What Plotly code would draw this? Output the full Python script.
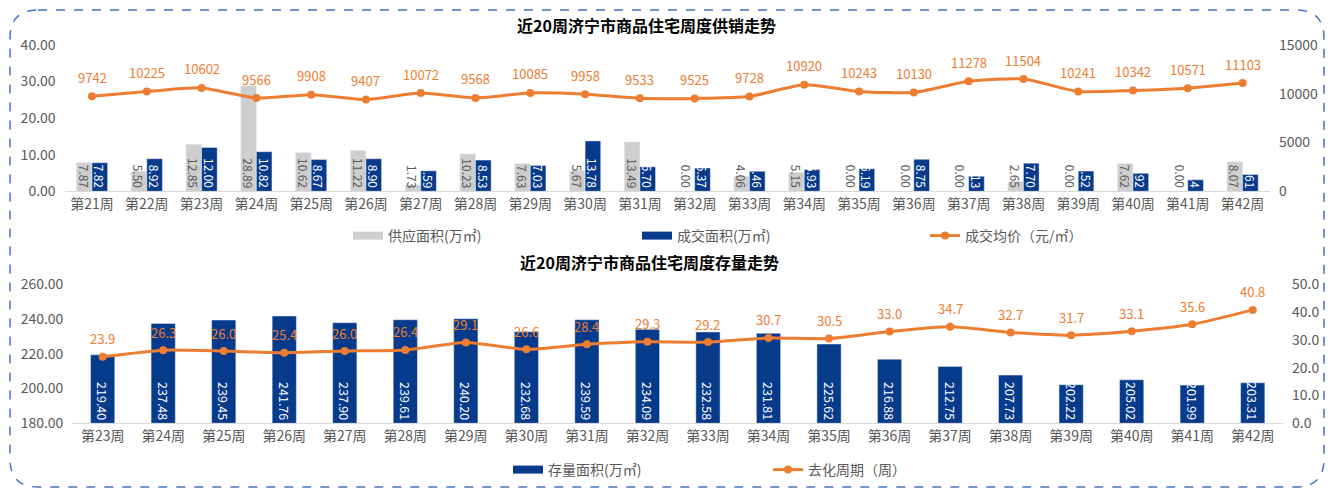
import plotly.graph_objects as go

# ---------------- data ----------------
weeks_top = [f"第{i}周" for i in range(21, 43)]
supply_area = [7.87, 5.50, 12.85, 28.89, 10.62, 11.22, 1.73, 10.23, 7.63, 5.67, 13.49,
               0.00, 4.06, 5.15, 0.00, 0.00, 0.00, 2.65, 0.00, 7.62, 0.00, 8.07]
sales_area = [7.82, 8.92, 12.00, 10.82, 8.67, 8.90, 5.59, 8.53, 7.03, 13.78, 6.70,
              6.37, 5.46, 5.93, 6.19, 8.75, 4.13, 7.70, 5.52, 4.92, 3.14, 4.61]
avg_price = [9742, 10225, 10602, 9566, 9908, 9407, 10072, 9568, 10085, 9958, 9533,
             9525, 9728, 10920, 10243, 10130, 11278, 11504, 10241, 10342, 10571, 11103]

weeks_bot = [f"第{i}周" for i in range(23, 43)]
stock_area = [219.40, 237.48, 239.45, 241.76, 237.90, 239.61, 240.20, 232.68, 239.59, 234.09,
              232.58, 231.81, 225.62, 216.88, 212.75, 207.73, 202.22, 205.02, 201.99, 203.31]
cycle_weeks = [23.9, 26.3, 26.0, 25.4, 26.0, 26.4, 29.1, 26.6, 28.4, 29.3,
               29.2, 30.7, 30.5, 33.0, 34.7, 32.7, 31.7, 33.1, 35.6, 40.8]

title_top = "近20周济宁市商品住宅周度供销走势"
title_bot = "近20周济宁市商品住宅周度存量走势"

# ---------------- styles ----------------
W, H = 1332, 490
GRAY = "#CFCECE"
BLUE = "#063A8A"
ORANGE = "#ED7D31"
TXT = "#595959"
FONT = "Noto Sans CJK SC, Microsoft YaHei, sans-serif"
BOT_MIN = 180  # bottom left-axis floor; stock bars are drawn up from it

def px_x(p):
    return p / W

def px_y(p):
    return 1 - p / H

fig = go.Figure()

def fmt2(v):
    return f"{v:.2f}"

# ---- top chart bars ----
fig.add_trace(go.Bar(
    x=weeks_top, y=supply_area, name="供应面积(万㎡)", marker_color=GRAY,
    xaxis="x", yaxis="y", showlegend=False,
    text=[fmt2(v) for v in supply_area],
    textposition=["outside" if v == 0 else "inside" for v in supply_area],
    insidetextanchor="start", textangle=90, constraintext="none", cliponaxis=False,
    insidetextfont=dict(color=TXT, size=12, family=FONT),
    outsidetextfont=dict(color=TXT, size=12, family=FONT),
    hoverinfo="skip",
))
fig.add_trace(go.Bar(
    x=weeks_top, y=sales_area, name="成交面积(万㎡)", marker_color=BLUE,
    xaxis="x", yaxis="y", showlegend=False,
    text=[fmt2(v) for v in sales_area], textposition="inside",
    insidetextanchor="start", textangle=90, constraintext="none",
    insidetextfont=dict(color="white", size=12, family=FONT),
    hoverinfo="skip",
))
fig.add_trace(go.Scatter(
    x=weeks_top, y=avg_price, name="成交均价（元/㎡）", mode="lines+markers",
    line=dict(color=ORANGE, width=3, shape="spline", smoothing=0.6),
    marker=dict(color=ORANGE, size=8),
    xaxis="x", yaxis="y2", showlegend=True, legend="legend3", hoverinfo="skip",
))

# ---- bottom chart ----
fig.add_trace(go.Bar(
    x=weeks_bot, y=[v - BOT_MIN for v in stock_area], base=BOT_MIN, width=0.4,
    name="存量面积(万㎡)", marker_color=BLUE,
    xaxis="x2", yaxis="y3", showlegend=False,
    text=[fmt2(v) for v in stock_area], textposition="inside",
    insidetextanchor="start", textangle=90, constraintext="none",
    insidetextfont=dict(color="white", size=12.5, family=FONT),
    hoverinfo="skip",
))
fig.add_trace(go.Scatter(
    x=weeks_bot, y=cycle_weeks, name="去化周期（周）", mode="lines+markers",
    line=dict(color=ORANGE, width=3, shape="spline", smoothing=0.6),
    marker=dict(color=ORANGE, size=8),
    xaxis="x2", yaxis="y4", showlegend=True, legend="legend5", hoverinfo="skip",
))

# ---- legend-only proxies for wide rectangular bar keys ----
for nm, col, lg in [("供应面积(万㎡)", GRAY, "legend"),
                    ("成交面积(万㎡)", BLUE, "legend2"),
                    ("存量面积(万㎡)", BLUE, "legend4")]:
    fig.add_trace(go.Scatter(
        x=[None], y=[None], name=nm, mode="lines",
        line=dict(color=col, width=8), xaxis="x", yaxis="y",
        showlegend=True, legend=lg, hoverinfo="skip",
    ))

# ---- line value labels ----
annots = []
for wk, v in zip(weeks_top, avg_price):
    annots.append(dict(x=wk, y=v, xref="x", yref="y2", text=str(v), showarrow=False,
                       yshift=19, font=dict(color=ORANGE, size=13, family=FONT)))
for wk, v in zip(weeks_bot, cycle_weeks):
    annots.append(dict(x=wk, y=v, xref="x2", yref="y4", text=f"{v:.1f}", showarrow=False,
                       yshift=18, font=dict(color=ORANGE, size=13, family=FONT)))

# titles
annots.append(dict(x=px_x(646), y=px_y(25), xref="paper", yref="paper", text=f"<b>{title_top}</b>",
                   xanchor="center", yanchor="middle",
                   showarrow=False, font=dict(size=16, color="black", family=FONT)))
annots.append(dict(x=px_x(649), y=px_y(262), xref="paper", yref="paper", text=f"<b>{title_bot}</b>",
                   xanchor="center", yanchor="middle",
                   showarrow=False, font=dict(size=16, color="black", family=FONT)))

# ---- border (rounded dashed rectangle) ----
x0, y0, x1, y1, r = 10, 10, 1324, 487, 28
def P(x, y):
    return f"{px_x(x):.5f},{px_y(y):.5f}"
path = (f"M {P(x0 + r, y0)} L {P(x1 - r, y0)} Q {P(x1, y0)} {P(x1, y0 + r)} "
        f"L {P(x1, y1 - r)} Q {P(x1, y1)} {P(x1 - r, y1)} "
        f"L {P(x0 + r, y1)} Q {P(x0, y1)} {P(x0, y1 - r)} "
        f"L {P(x0, y0 + r)} Q {P(x0, y0)} {P(x0 + r, y0)} Z")
shapes = [dict(type="path", path=path, xref="paper", yref="paper",
               line=dict(color="#4472C4", width=1.5, dash="dash"), layer="below")]

tickfont = dict(size=14, color=TXT, family=FONT)
catfont = dict(size=14, color=TXT, family=FONT)

def legend_at(xpx, ypx):
    return dict(x=px_x(xpx), y=px_y(ypx), xanchor="left", yanchor="middle",
                orientation="h", bgcolor="rgba(0,0,0,0)",
                font=dict(size=14, color=TXT, family=FONT),
                itemwidth=30, tracegroupgap=0)

common_y = dict(showgrid=False, zeroline=False, showline=False, ticks="",
                tickfont=tickfont, ticklabelstandoff=8, automargin=False, fixedrange=True)
common_x = dict(showgrid=False, showline=True, linecolor="#D9D9D9", linewidth=1, ticks="",
                tickfont=catfont, automargin=False, fixedrange=True)

fig.update_layout(
    width=W, height=H,
    margin=dict(l=0, r=0, t=0, b=0, autoexpand=False),
    paper_bgcolor="white", plot_bgcolor="white",
    barmode="group",
    font=dict(family=FONT, color=TXT),
    xaxis=dict(domain=[px_x(64.6), px_x(1270)], anchor="y",
               range=[-0.5, len(weeks_top) - 0.5], **common_x),
    yaxis=dict(domain=[px_y(191.3), px_y(45)], range=[0, 40], dtick=10, tickformat=".2f",
               **common_y),
    yaxis2=dict(overlaying="y", side="right", range=[0, 15000], dtick=5000, tickformat="d",
                **common_y),
    xaxis2=dict(domain=[px_x(72.4), px_x(1283)], anchor="y3",
                range=[-0.5, len(weeks_bot) - 0.5], **common_x),
    yaxis3=dict(domain=[px_y(423.3), px_y(284.3)], range=[180, 260], dtick=20, tickformat=".2f",
                anchor="x2", **common_y),
    yaxis4=dict(overlaying="y3", anchor="x2", side="right", range=[0, 50], dtick=10,
                tickformat=".1f", **common_y),
    bargap=0.43, bargroupgap=0,
    legend=legend_at(348, 236),
    legend2=legend_at(637, 236),
    legend3=legend_at(925, 236),
    legend4=legend_at(508, 470),
    legend5=legend_at(768, 470),
    annotations=annots,
    shapes=shapes,
)

fig.write_html("out.html", config={"displayModeBar": False},
               post_script="document.body.style.margin='0';")
